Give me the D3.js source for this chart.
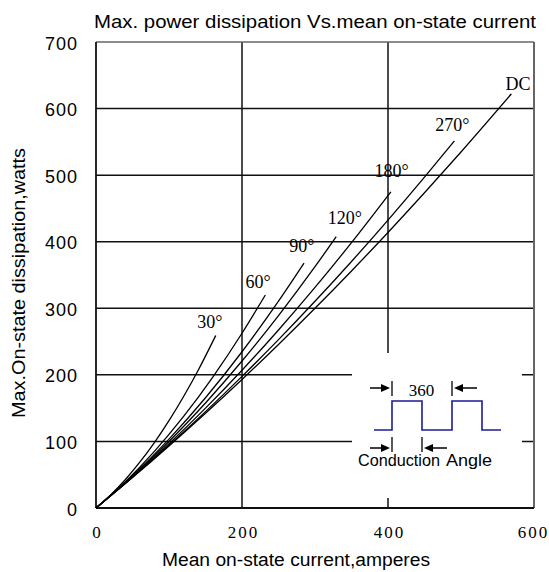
<!DOCTYPE html>
<html><head><meta charset="utf-8">
<script src="https://cdn.jsdelivr.net/npm/d3@7/dist/d3.min.js"></script>
<style>
body{margin:0;background:#fff;}
svg{display:block;}
</style></head>
<body>
<svg id="c" width="549" height="572"></svg>
<script>
// ---- data ----
const xTicks = [0, 200, 400, 600];
const yTicks = [0, 100, 200, 300, 400, 500, 600, 700];
const seriesNames = ["30°", "60°", "90°", "120°", "180°", "270°", "DC"];
const current30  = [0, 20, 40, 60, 80, 100, 120, 140, 164];
const power30    = [0, 19.6, 42.5, 68.8, 98.3, 131.2, 167.5, 207, 259];
const current60  = [0, 40, 80, 120, 160, 200, 232];
const power60    = [0, 39.2, 85.0, 137.5, 196.7, 262.5, 320];
const current90  = [0, 50, 100, 150, 200, 250, 285];
const power90    = [0, 48.3, 103.5, 165.6, 234.7, 310.8, 368];
const current120 = [0, 50, 100, 150, 200, 250, 300, 329];
const power120   = [0, 47.4, 100.0, 157.8, 220.8, 289.1, 362.5, 407.5];
const current180 = [0, 50, 100, 150, 200, 250, 300, 350, 404];
const power180   = [0, 46.5, 96.5, 150.0, 207.0, 267.4, 331.3, 398.6, 475];
const current270 = [0, 50, 100, 150, 200, 250, 300, 350, 400, 450, 491];
const power270   = [0, 46.0, 94.2, 144.8, 197.7, 252.9, 310.5, 370.3, 432.5, 497.0, 551.5];
const currentDC  = [0, 50, 100, 150, 200, 250, 300, 350, 400, 450, 500, 569];
const powerDC    = [0, 45.7, 93.1, 142.2, 193.1, 245.7, 300.0, 356.1, 413.9, 473.5, 534.8, 622];
// label anchor points (current, power) for each curve
const labelCurrent = [156, 222, 282, 341, 405, 488, 578];
const labelPower   = [270, 331, 385, 427, 497, 567, 628];

const seriesX = [current30, current60, current90, current120, current180, current270, currentDC];
const seriesY = [power30, power60, power90, power120, power180, power270, powerDC];

// ---- layout ----
const L = 96, R = 534, T = 42, B = 508;
const x = d3.scaleLinear().domain([0, 600]).range([L, R]);
const y = d3.scaleLinear().domain([0, 700]).range([B, T]);
const svg = d3.select("#c");
const sans = "'Liberation Sans', Arial, sans-serif";
const serif = "'Liberation Serif', 'Times New Roman', serif";

// gridlines
svg.append("g").selectAll("line").data(yTicks.filter(v => v > 0 && v < 700)).join("line")
  .attr("x1", L).attr("x2", R).attr("y1", d => y(d)).attr("y2", d => y(d))
  .attr("stroke", "#111").attr("stroke-width", 1.5);
svg.append("g").selectAll("line").data(xTicks.filter(v => v > 0 && v < 600)).join("line")
  .attr("x1", d => x(d)).attr("x2", d => x(d)).attr("y1", T).attr("y2", B)
  .attr("stroke", "#111").attr("stroke-width", 1.5);

// frame
svg.append("line").attr("x1", L).attr("x2", R).attr("y1", T).attr("y2", T)
  .attr("stroke", "#666").attr("stroke-width", 1.5);
svg.append("line").attr("x1", R).attr("x2", R).attr("y1", T).attr("y2", B)
  .attr("stroke", "#666").attr("stroke-width", 2);
svg.append("line").attr("x1", L).attr("x2", L).attr("y1", T).attr("y2", B)
  .attr("stroke", "#111").attr("stroke-width", 1.8);
svg.append("line").attr("x1", L).attr("x2", R).attr("y1", B).attr("y2", B)
  .attr("stroke", "#111").attr("stroke-width", 1.8);

// inset white box (covers gridlines)
svg.append("rect").attr("x", 352).attr("y", 353).attr("width", 170).attr("height", 145).attr("fill", "#fff");

// curves
const line = d3.line().x(d => x(d[0])).y(d => y(d[1])).curve(d3.curveMonotoneX);
seriesX.forEach((xs, i) => {
  const pts = xs.map((v, j) => [v, seriesY[i][j]]);
  svg.append("path").datum(pts).attr("d", line)
    .attr("fill", "none").attr("stroke", "#000").attr("stroke-width", 1.3);
});

// curve labels
svg.append("g").selectAll("text").data(seriesNames).join("text")
  .attr("x", (d, i) => x(labelCurrent[i])).attr("y", (d, i) => y(labelPower[i]))
  .attr("text-anchor", "middle").attr("font-family", serif).attr("font-size", 18)
  .attr("fill", "#000").text(d => d);

// axes tick labels
const yAxis = d3.axisLeft(y).tickValues(yTicks).tickSize(0).tickPadding(0).tickFormat(d3.format("d"));
const gy = svg.append("g").attr("transform", `translate(${78},0)`).call(yAxis);
gy.select(".domain").remove();
gy.selectAll("text").attr("font-family", sans).attr("font-size", 18).attr("letter-spacing", "1px")
  .attr("fill", "#000").attr("dy", null).attr("y", 7);

const xAxis = d3.axisBottom(x).tickValues(xTicks).tickSize(0).tickPadding(0).tickFormat(d3.format("d"));
const gx = svg.append("g").attr("transform", `translate(1,0)`).call(xAxis);
gx.select(".domain").remove();
gx.selectAll("text").attr("font-family", serif).attr("font-size", 17).attr("letter-spacing", "2px")
  .attr("fill", "#000").attr("dy", null).attr("y", 538)
  .attr("x", d => d === 600 ? -2 : 0);

// titles
svg.append("text").attr("x", 94).attr("y", 28).attr("font-family", sans).attr("font-size", 17.5)
  .attr("textLength", 442).attr("lengthAdjust", "spacingAndGlyphs").attr("fill", "#000")
  .text("Max. power dissipation Vs.mean on-state current");
svg.append("text").attr("x", 162).attr("y", 566).attr("font-family", sans).attr("font-size", 18)
  .attr("textLength", 268).attr("lengthAdjust", "spacingAndGlyphs").attr("fill", "#000")
  .text("Mean on-state current,amperes");
svg.append("text").attr("transform", "translate(25,283) rotate(-90)").attr("text-anchor", "middle")
  .attr("font-family", sans).attr("font-size", 18)
  .attr("textLength", 270).attr("lengthAdjust", "spacingAndGlyphs").attr("fill", "#000")
  .text("Max.On-state dissipation,watts");

// inset: waveform schematic
const wave = [[374,430],[392,430],[392,401],[422,401],[422,430],[452,430],[452,401],[482,401],[482,430],[501,430]];
svg.append("path").attr("d", d3.line()(wave)).attr("fill", "none")
  .attr("stroke", "#1c1c96").attr("stroke-width", 1.6);

function arrow(x1, x2, yy) {
  const dir = Math.sign(x2 - x1);
  svg.append("line").attr("x1", x1).attr("x2", x2 - dir * 7).attr("y1", yy).attr("y2", yy)
    .attr("stroke", "#000").attr("stroke-width", 1.5);
  svg.append("path").attr("d", `M${x2},${yy} L${x2 - dir * 9},${yy - 4} L${x2 - dir * 9},${yy + 4} Z`).attr("fill", "#000");
}
function bar(xx, y1, y2) {
  svg.append("line").attr("x1", xx).attr("x2", xx).attr("y1", y1).attr("y2", y2)
    .attr("stroke", "#000").attr("stroke-width", 1.3);
}
arrow(370, 390, 388); bar(392, 381, 396);
bar(452, 381, 396); arrow(477, 454, 388);
arrow(370, 390, 448); bar(392, 437, 452);
bar(422, 437, 452); arrow(447, 424, 448);
svg.append("text").attr("x", 421.5).attr("y", 396).attr("text-anchor", "middle")
  .attr("font-family", serif).attr("font-size", 17).attr("fill", "#000").text("360");
svg.append("text").attr("x", 358).attr("y", 466).attr("font-family", sans).attr("font-size", 16)
  .attr("textLength", 82).attr("lengthAdjust", "spacingAndGlyphs").attr("fill", "#000").text("Conduction");
svg.append("text").attr("x", 446).attr("y", 466).attr("font-family", sans).attr("font-size", 16)
  .attr("textLength", 46).attr("lengthAdjust", "spacingAndGlyphs").attr("fill", "#000").text("Angle");
</script>
</body></html>
